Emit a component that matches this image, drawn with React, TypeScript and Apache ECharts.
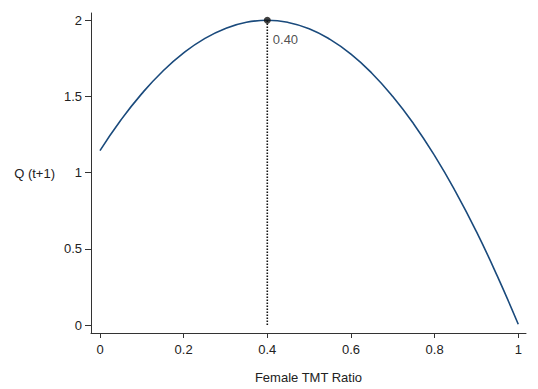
import React, { useEffect, useRef } from "react";
import * as echarts from "echarts";

const xValues = [0, 0.05, 0.1, 0.15, 0.2, 0.25, 0.3, 0.35, 0.4, 0.45, 0.5, 0.55, 0.6, 0.65, 0.7, 0.75, 0.8, 0.85, 0.9, 0.95, 1.0];
const qValues = [1.145, 1.346, 1.519, 1.666, 1.786, 1.88, 1.947, 1.987, 2.0, 1.986, 1.945, 1.875, 1.778, 1.653, 1.5, 1.32, 1.112, 0.876, 0.613, 0.321, 0.005];
const xTicks = [0, 0.2, 0.4, 0.6, 0.8, 1];
const yTicks = [0, 0.5, 1, 1.5, 2];
const peakX = 0.4;
const peakY = 2.0;
const peakLabel = "0.40";

export default function App() {
  const ref = useRef<HTMLDivElement>(null);
  useEffect(() => {
    if (!ref.current) return;
    const chart = echarts.init(ref.current, null, { renderer: "svg" });
    const font = "'Liberation Sans', Arial, sans-serif";
    const fmt = (v: number) => String(v);
    chart.setOption({
      animation: false,
      backgroundColor: "#ffffff",
      textStyle: { fontFamily: font },
      grid: { left: 91, right: 12, top: 13, bottom: 53, containLabel: false },
      xAxis: {
        type: "value",
        min: -0.0215,
        max: 1.0185,
        name: "Female TMT Ratio",
        nameLocation: "middle",
        nameGap: 38,
        nameTextStyle: { fontSize: 13, color: "#222", fontFamily: font },
        axisLine: { show: true, onZero: false, lineStyle: { color: "#333", width: 1 } },
        axisTick: { show: true, length: 5, customValues: xTicks, lineStyle: { color: "#333" } },
        axisLabel: { customValues: xTicks, formatter: fmt, fontSize: 13, color: "#222", margin: 10, fontFamily: font },
        splitLine: { show: false },
      },
      yAxis: {
        type: "value",
        min: -0.052,
        max: 2.048,
        name: "Q (t+1)",
        nameLocation: "middle",
        nameRotate: 0,
        nameGap: 36,
        nameTextStyle: { fontSize: 13, color: "#222", fontFamily: font },
        axisLine: { show: true, onZero: false, lineStyle: { color: "#333", width: 1 } },
        axisTick: { show: true, length: 6, customValues: yTicks, lineStyle: { color: "#333" } },
        axisLabel: { customValues: yTicks, formatter: fmt, fontSize: 13, color: "#222", margin: 9, fontFamily: font },
        splitLine: { show: false },
      },
      series: [
        {
          type: "line",
          data: xValues.map((x, i) => [x, qValues[i]]),
          smooth: true,
          symbol: "none",
          lineStyle: { color: "#1a4a7c", width: 1.6 },
          z: 3,
        },
        {
          type: "line",
          data: [[peakX, 0], [peakX, peakY]],
          symbol: "none",
          lineStyle: { color: "#111", width: 1.6, type: [1.5, 1.5] },
          z: 2,
        },
        {
          type: "scatter",
          data: [[peakX, peakY]],
          symbol: "circle",
          symbolSize: 7,
          itemStyle: { color: "#111" },
          label: {
            show: true,
            formatter: peakLabel,
            position: [9, 16],
            align: "left",
            verticalAlign: "top",
            fontSize: 13,
            color: "#222",
            fontFamily: font,
          },
          z: 4,
        },
      ],
    });
    return () => chart.dispose();
  }, []);
  return (
    <div
      ref={ref}
      style={{ position: "absolute", left: 0, top: 0, width: 538, height: 389 }}
    />
  );
}
